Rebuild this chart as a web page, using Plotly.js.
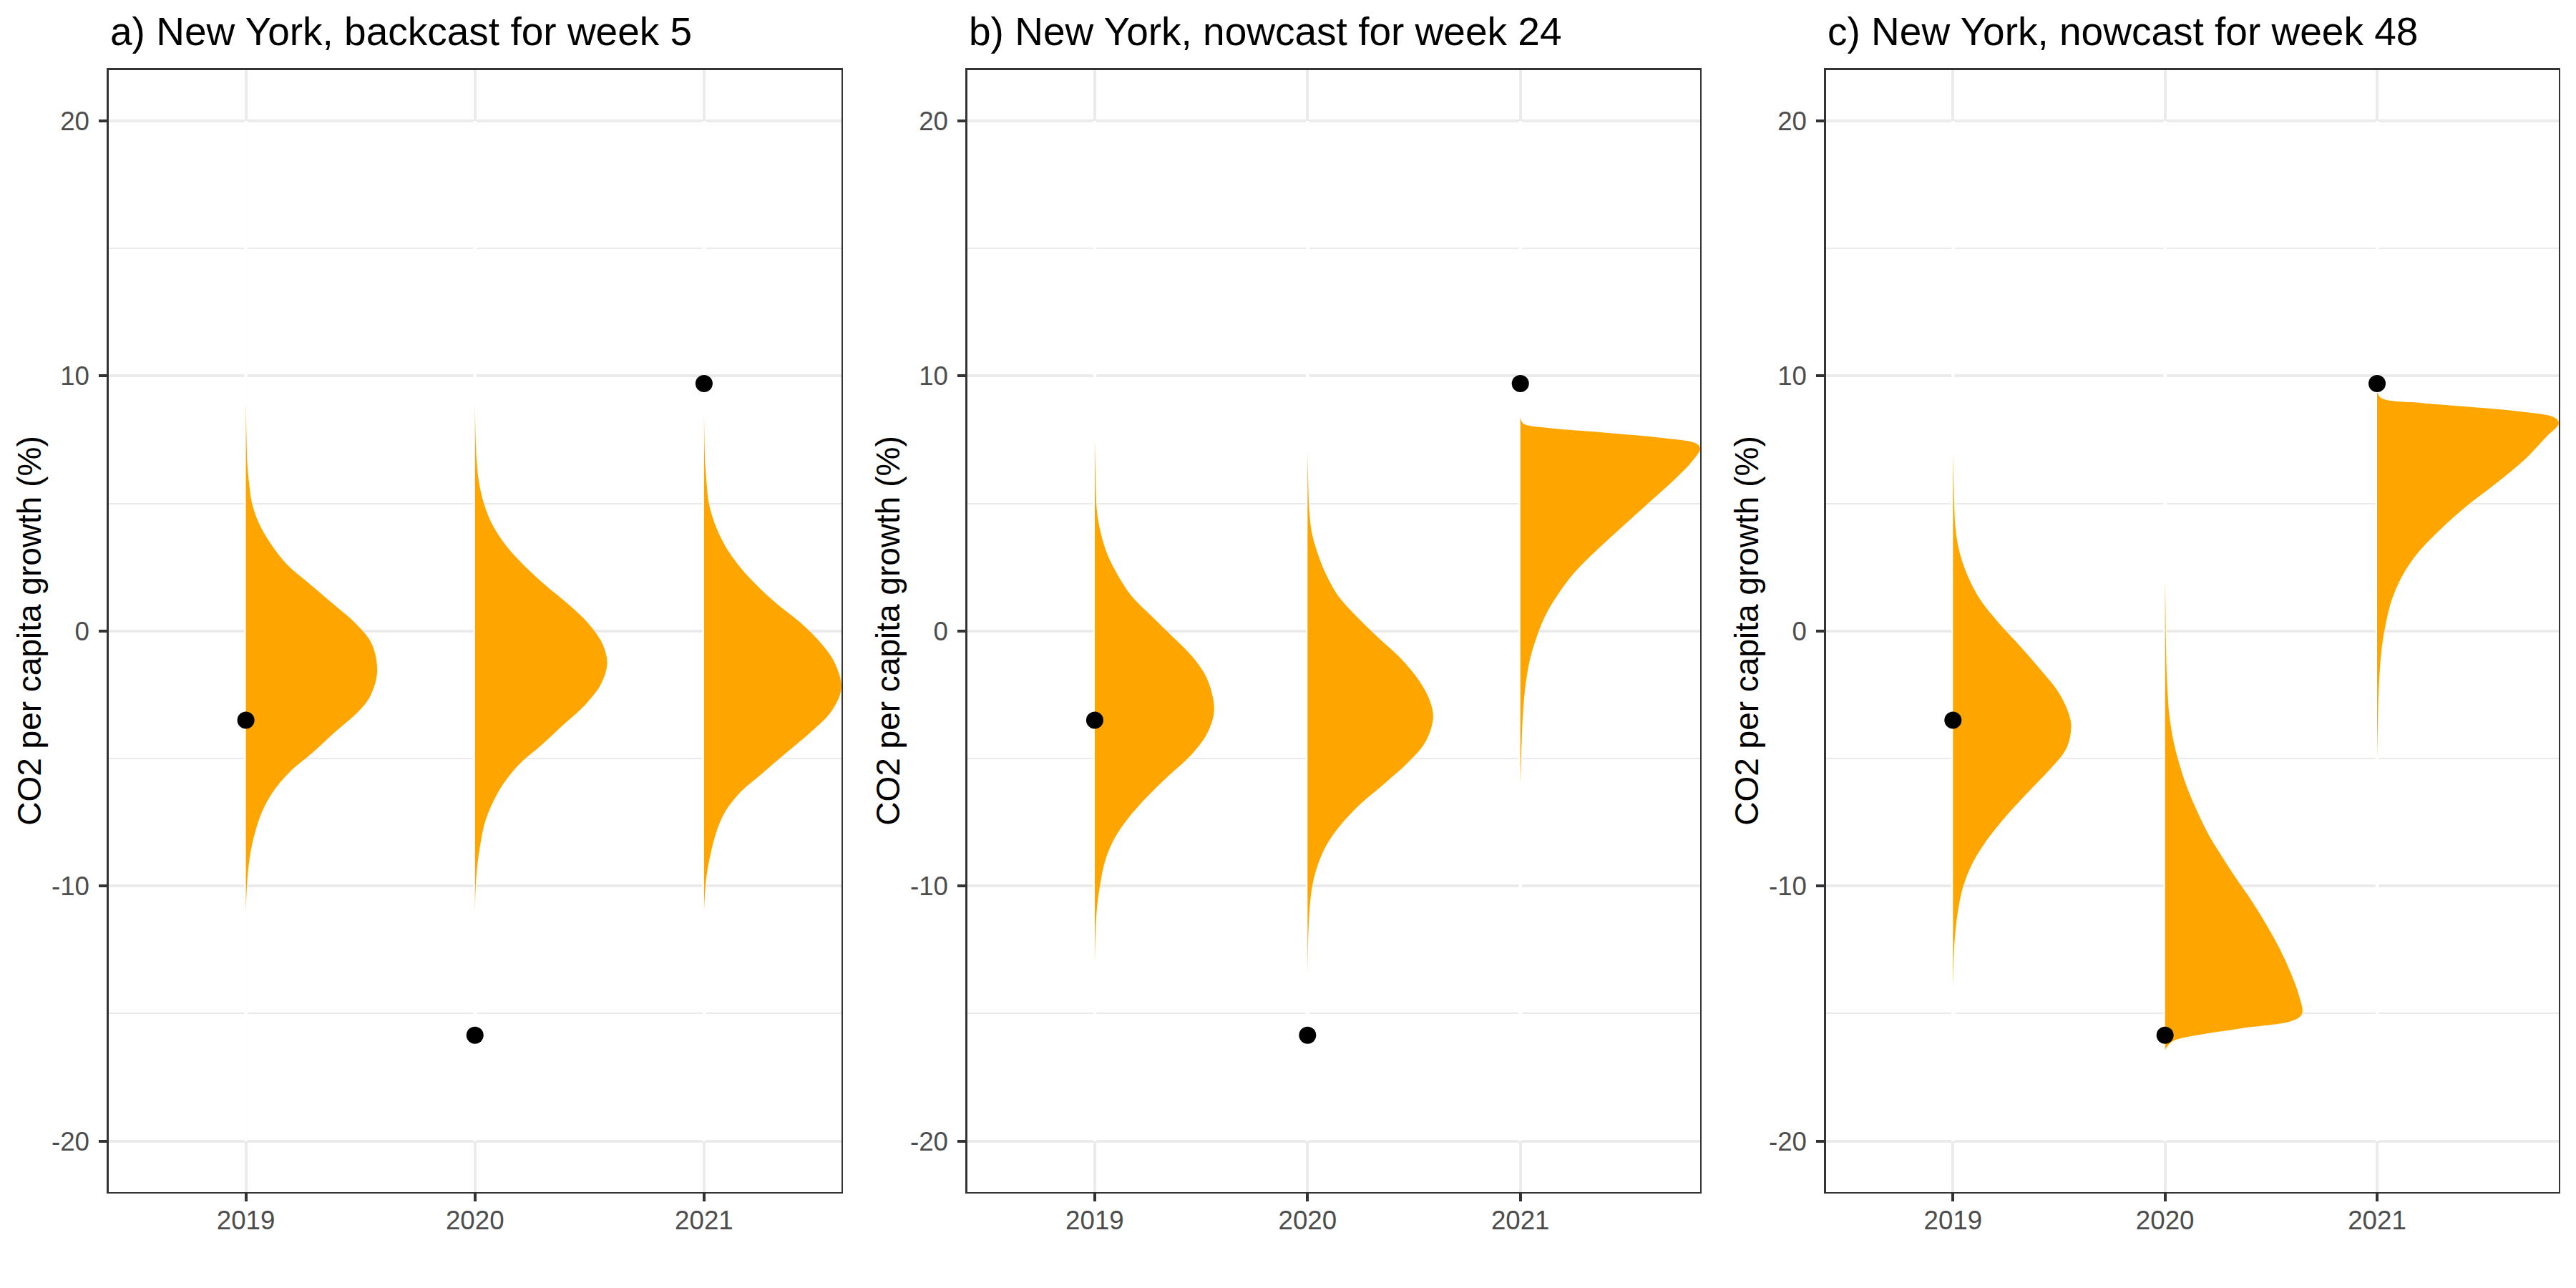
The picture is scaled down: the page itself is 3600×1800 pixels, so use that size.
<!DOCTYPE html>
<html>
<head>
<meta charset="utf-8">
<script src="https://cdn.plot.ly/plotly-3.0.1.min.js"></script>
<style>
html,body{margin:0;padding:0;background:#ffffff;}
#chart{width:3600px;height:1800px;}
</style>
</head>
<body>
<div id="chart"></div>
<script>
// ---------------- data ----------------
const years = [2019, 2020, 2021];
const yearLabels = ['2019', '2020', '2021'];
const panelTitles = [
  'a) New York, backcast for week 5',
  'b) New York, nowcast for week 24',
  'c) New York, nowcast for week 48'
];
const yTitle = 'CO2 per capita growth (%)';
const yTickVals = [-20, -10, 0, 10, 20];
const yTickText = ['-20', '-10', '0', '10', '20'];
const yMinorVals = [-15, -5, 5, 15];
// violins are evaluated over the whole y scale limits (thin white outline along the category line)
const densityLimits = [20, -20];

// observed growth (black points), same in each panel
const observed = [-3.5, -15.85, 9.7];

// half-violin density profiles: y value and width (in x-axis units)
// panel a
const a2019Y = [9, 7.5, 6.6, 5.8, 5.0, 4.2, 3.4, 2.6, 1.85, 1.05, 0.3, -0.5, -1.6, -2.55, -3.2, -3.95, -4.75, -5.55, -6.3, -7.1, -7.9, -8.8, -9.8, -11];
const a2019W = [0, 0.003, 0.006, 0.014, 0.027, 0.058, 0.11, 0.18, 0.277, 0.382, 0.478, 0.549, 0.573, 0.543, 0.487, 0.391, 0.294, 0.189, 0.119, 0.07, 0.04, 0.018, 0.006, 0];
const a2020Y = [9, 7.5, 6.6, 5.8, 5.0, 4.2, 3.4, 2.65, 1.85, 1.05, 0.3, -0.5, -1.25, -2.05, -2.85, -3.65, -4.45, -5.2, -6.0, -6.8, -7.55, -8.5, -9.6, -11];
const a2020W = [0, 0.003, 0.008, 0.018, 0.039, 0.074, 0.131, 0.205, 0.30, 0.407, 0.494, 0.556, 0.577, 0.552, 0.486, 0.389, 0.293, 0.196, 0.123, 0.074, 0.042, 0.021, 0.006, 0];
const a2021Y = [8.5, 7.0, 6.55, 5.8, 5.0, 4.2, 3.4, 2.65, 1.85, 1.05, 0.3, -0.5, -1.3, -2.25, -3.15, -3.95, -4.75, -5.55, -6.3, -7.1, -7.9, -8.85, -9.75, -11];
const a2021W = [0, 0.003, 0.005, 0.011, 0.021, 0.047, 0.088, 0.144, 0.223, 0.319, 0.424, 0.512, 0.573, 0.599, 0.556, 0.468, 0.363, 0.258, 0.161, 0.091, 0.053, 0.026, 0.009, 0];
// panel b
const b2019Y = [7.5, 6.3, 5.5, 4.7, 3.85, 3.05, 2.25, 1.4, 0.6, -0.25, -1.05, -1.9, -3.1, -4.0, -4.85, -5.65, -6.5, -7.3, -8.1, -8.95, -9.95, -10.9, -11.75, -13];
const b2019W = [0, 0.003, 0.005, 0.01, 0.028, 0.057, 0.104, 0.17, 0.265, 0.369, 0.463, 0.529, 0.561, 0.529, 0.454, 0.35, 0.246, 0.161, 0.095, 0.051, 0.025, 0.01, 0.004, 0];
const b2020Y = [7, 5.85, 5.2, 4.7, 3.85, 3.05, 2.25, 1.4, 0.6, -0.25, -1.05, -1.9, -2.7, -3.4, -4.35, -5.15, -6.0, -6.8, -7.65, -8.45, -9.3, -10.1, -11.1, -12.1, -13.5];
const b2020W = [0, 0.003, 0.005, 0.008, 0.02, 0.047, 0.085, 0.142, 0.227, 0.331, 0.435, 0.52, 0.573, 0.59, 0.554, 0.473, 0.359, 0.246, 0.151, 0.085, 0.043, 0.02, 0.008, 0.003, 0];
const b2021Y = [8.4, 8.14, 7.98, 7.78, 7.56, 7.35, 7.16, 6.65, 6.0, 5.0, 3.85, 3.05, 2.25, 1.4, 0.6, -0.25, -1.05, -1.9, -2.7, -3.55, -4.7, -6];
const b2021W = [0, 0.013, 0.108, 0.391, 0.675, 0.826, 0.845, 0.807, 0.732, 0.6, 0.448, 0.344, 0.25, 0.174, 0.117, 0.076, 0.047, 0.028, 0.017, 0.01, 0.005, 0];
// panel c
const c2019Y = [7, 5.8, 4.9, 4.0, 3.05, 2.15, 1.25, 0.35, -0.6, -1.5, -2.4, -3.3, -3.8, -4.6, -5.5, -6.4, -7.35, -8.25, -9.15, -10.05, -11, -12.1, -13, -14];
const c2019W = [0, 0.003, 0.006, 0.012, 0.032, 0.07, 0.127, 0.212, 0.317, 0.411, 0.497, 0.548, 0.557, 0.535, 0.449, 0.345, 0.241, 0.155, 0.089, 0.047, 0.023, 0.008, 0.003, 0];
const c2020Y = [2.0, 1.0, -0.4, -1.5, -2.4, -3.3, -4.25, -5.15, -6.05, -6.95, -7.9, -8.8, -9.7, -10.6, -11.55, -12.45, -13.35, -14.25, -15.0, -15.27, -15.58, -15.82, -16.09, -16.42];
const c2020W = [0, 0.002, 0.004, 0.007, 0.012, 0.02, 0.038, 0.065, 0.1, 0.145, 0.2, 0.265, 0.335, 0.41, 0.48, 0.54, 0.59, 0.63, 0.646, 0.605, 0.358, 0.169, 0.036, 0];
const c2021Y = [9.36, 9.12, 8.94, 8.81, 8.59, 8.36, 8.14, 7.63, 6.72, 5.8, 4.89, 3.98, 3.07, 2.15, 1.24, 0.33, -0.58, -1.5, -2.41, -3.32, -5];
const c2021W = [0, 0.023, 0.212, 0.40, 0.686, 0.838, 0.857, 0.8, 0.696, 0.563, 0.421, 0.298, 0.193, 0.118, 0.07, 0.042, 0.023, 0.013, 0.007, 0.004, 0];

// ---------------- build figure ----------------
const panels = [
  {title: panelTitles[0], violins: [[a2019Y, a2019W], [a2020Y, a2020W], [a2021Y, a2021W]]},
  {title: panelTitles[1], violins: [[b2019Y, b2019W], [b2020Y, b2020W], [b2021Y, b2021W]]},
  {title: panelTitles[2], violins: [[c2019Y, c2019W], [c2020Y, c2020W], [c2021Y, c2021W]]}
];

const W = 3600, H = 1800;
const panelLeftPx = [151.5, 1351.5, 2551.5];
const panelWidthPx = 1024.5;
const panelTopPx = 97.6, panelBottomPx = 1666;

const FONT = 'Liberation Sans, Arial, Helvetica, sans-serif';
const ORANGE = '#FFA500';
const GRID = '#EBEBEB';
const DARK = '#333333';

const traces = [];
const layout = {
  width: W, height: H,
  margin: {l: 0, r: 0, t: 0, b: 0, pad: 0},
  paper_bgcolor: '#ffffff',
  plot_bgcolor: '#ffffff',
  showlegend: false,
  font: {family: FONT, color: '#000000'},
  annotations: [],
  hovermode: false
};

panels.forEach((p, i) => {
  const sfx = i === 0 ? '' : String(i + 1);
  const xa = 'x' + sfx, ya = 'y' + sfx;

  // white violin outline along each category line (covers the vertical grid)
  const ox = [], oy = [];
  years.forEach(yr => { ox.push(yr, yr, null); oy.push(densityLimits[0], densityLimits[1], null); });
  traces.push({
    type: 'scatter', mode: 'lines', x: ox, y: oy, xaxis: xa, yaxis: ya,
    line: {color: '#ffffff', width: 4.5}, hoverinfo: 'skip', connectgaps: false
  });

  let xmax = years[years.length - 1] + 0.6;
  p.violins.forEach((v, j) => {
    const ys = v[0], ws = v[1];
    const x = ws.map(w => years[j] + w);
    xmax = Math.max(xmax, Math.max(...x));
    traces.push({
      type: 'scatter', mode: 'lines', x: x, y: ys,
      xaxis: xa, yaxis: ya,
      fill: 'toself', fillcolor: ORANGE,
      line: {color: 'rgba(255,255,255,0)', width: 0, shape: 'spline', smoothing: 1},
      hoverinfo: 'skip'
    });
  });

  traces.push({
    type: 'scatter', mode: 'markers', x: years, y: observed,
    xaxis: xa, yaxis: ya,
    marker: {color: '#000000', size: 24},
    hoverinfo: 'skip', cliponaxis: false
  });

  const d0 = panelLeftPx[i] / W, d1 = (panelLeftPx[i] + panelWidthPx) / W;
  layout['xaxis' + sfx] = {
    domain: [d0, d1],
    anchor: ya,
    range: [years[0] - 0.6, xmax],
    tickmode: 'array', tickvals: years, ticktext: yearLabels,
    ticks: 'outside', ticklen: 11, tickwidth: 4, tickcolor: DARK,
    tickfont: {family: FONT, size: 36.7, color: '#4D4D4D'},
    ticklabelstandoff: -5,
    showgrid: true, gridcolor: GRID, gridwidth: 4,
    zeroline: false,
    showline: true, mirror: true, linecolor: DARK, linewidth: 2.2,
    fixedrange: true
  };
  layout['yaxis' + sfx] = {
    domain: [1 - panelBottomPx / H, 1 - panelTopPx / H],
    anchor: xa,
    range: [-22, 22],
    tickmode: 'array', tickvals: yTickVals, ticktext: yTickText,
    ticks: 'outside', ticklen: 11, tickwidth: 4, tickcolor: DARK,
    tickfont: {family: FONT, size: 36.7, color: '#4D4D4D'},
    ticklabelstandoff: 6,
    showgrid: true, gridcolor: GRID, gridwidth: 4,
    minor: {tickmode: 'array', tickvals: yMinorVals, showgrid: true, gridcolor: GRID, gridwidth: 2, ticks: ''},
    zeroline: false,
    showline: true, mirror: true, linecolor: DARK, linewidth: 2.2,
    fixedrange: true
  };

  layout.annotations.push({
    xref: 'paper', yref: 'paper',
    x: d0, y: 1 - 44.3 / H,
    xanchor: 'left', yanchor: 'middle',
    text: p.title, showarrow: false,
    font: {family: FONT, size: 55, color: '#000000'}
  });
  layout.annotations.push({
    xref: 'paper', yref: 'paper',
    x: (panelLeftPx[i] - 110.5) / W,
    y: 1 - ((panelTopPx + panelBottomPx) / 2) / H,
    xanchor: 'center', yanchor: 'middle',
    text: yTitle, textangle: -90, showarrow: false,
    font: {family: FONT, size: 46, color: '#000000'}
  });
});

Plotly.newPlot('chart', traces, layout, {staticPlot: true, displayModeBar: false});
</script>
</body>
</html>
